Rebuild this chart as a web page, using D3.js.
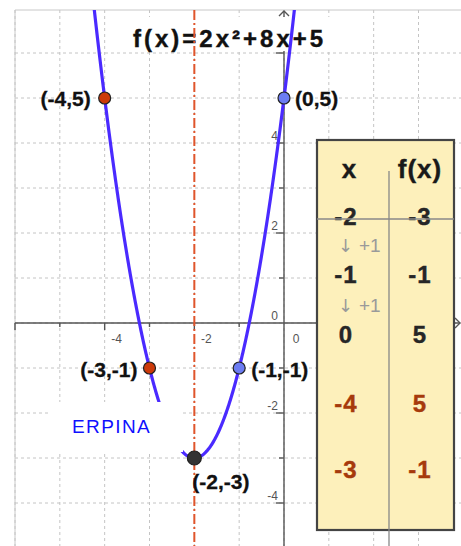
<!DOCTYPE html>
<html>
<head>
<meta charset="utf-8">
<script src="https://cdn.jsdelivr.net/npm/d3@7"></script>
<style>
  html, body { margin: 0; padding: 0; background: #fff; }
  svg { display: block; font-family: "Liberation Sans", Arial, sans-serif; }
</style>
</head>
<body>
<svg id="chart" width="461" height="546"></svg>
<script>
// Quadratic f(x) = a x^2 + b x + c
const coefA = 2, coefB = 8, coefC = 5;
const titleText = "f(x)=2x²+8x+5";

// Marked points on the parabola
const pointX = [-4, 0, -3, -1, -2];
const pointY = [5, 5, -1, -1, -3];
const pointKind = ["red", "blue", "red", "blue", "vertex"];

// Value table
const tableX = ["-2", "-1", "0", "-4", "-3"];
const tableF = ["-3", "-1", "5", "5", "-1"];
const tableKind = ["dark", "dark", "dark", "red", "red"];
const stepArrow = "↓";
const stepLabels = ["+1", "+1"];

// Axis tick labels
const xTickLabels = [-4, -2, 0];
const yTickLabels = [-4, -2, 0, 2, 4];

const axisOfSymmetry = -2;
const noteText = "ERPINA";

const W = 461, H = 546;
const svg = d3.select("#chart");

const x = d3.scaleLinear().domain([-6, 0]).range([15, 284]);
const y = d3.scaleLinear().domain([0, 5]).range([323, 98]);
const f = t => coefA * t * t + coefB * t + coefC;

const plotL = 15, plotT = 10;
const xMin = x.invert(plotL), xMax = x.invert(W);
const yMax = y.invert(plotT), yMin = y.invert(H);

svg.append("defs").append("clipPath").attr("id", "plotClip")
  .append("rect").attr("x", plotL).attr("y", plotT).attr("width", W - plotL).attr("height", H - plotT);

// Grid
const grid = svg.append("g").attr("stroke", "#c4c4c4").attr("stroke-width", 1)
  .attr("stroke-dasharray", "3,3");
d3.range(Math.ceil(xMin), Math.floor(xMax) + 1).forEach(v => {
  grid.append("line").attr("x1", x(v)).attr("x2", x(v)).attr("y1", plotT).attr("y2", H);
});
d3.range(Math.ceil(yMin), Math.floor(yMax) + 1).forEach(v => {
  grid.append("line").attr("x1", plotL).attr("x2", W).attr("y1", y(v)).attr("y2", y(v));
});

// Frame
svg.append("path").attr("d", `M${plotL},${H} V${plotT} H${W}`)
  .attr("fill", "none").attr("stroke", "#c8c8c8").attr("stroke-width", 1);

// Axes
const axes = svg.append("g").attr("stroke", "#555").attr("stroke-width", 1.4).attr("fill", "none");
axes.append("line").attr("x1", plotL).attr("x2", W - 1).attr("y1", y(0)).attr("y2", y(0));
axes.append("line").attr("x1", x(0)).attr("x2", x(0)).attr("y1", H).attr("y2", plotT + 1);
axes.append("path").attr("d", `M${x(0) - 5},${plotT + 6} L${x(0)},${plotT + 1} L${x(0) + 5},${plotT + 6}`);
axes.append("path").attr("d", `M${W - 6},${y(0) - 5} L${W - 1},${y(0)} L${W - 6},${y(0) + 5}`);

d3.range(Math.ceil(xMin), Math.floor(xMax) + 1).filter(v => v !== 0).forEach(v => {
  const len = v % 2 === 0 ? 7 : 4;
  axes.append("line").attr("x1", x(v)).attr("x2", x(v)).attr("y1", y(0)).attr("y2", y(0) + len);
});
d3.range(Math.ceil(yMin), Math.floor(yMax) + 1).filter(v => v !== 0).forEach(v => {
  const len = v % 2 === 0 ? 8 : 5;
  axes.append("line").attr("x1", x(0) - len).attr("x2", x(0)).attr("y1", y(v)).attr("y2", y(v));
});

const tickLab = svg.append("g").attr("fill", "#555").attr("font-size", 12);
xTickLabels.forEach(v => {
  tickLab.append("text").attr("x", x(v) + 12).attr("y", y(0) + 20)
    .attr("text-anchor", "middle").text(v);
});
yTickLabels.forEach(v => {
  tickLab.append("text").attr("x", x(0) - 6).attr("y", y(v) - 3)
    .attr("text-anchor", "end").text(v);
});

// Title with its white backing
svg.append("rect").attr("x", 128).attr("y", 17).attr("width", 202).attr("height", 34).attr("fill", "#fff");
svg.append("text").attr("x", 133).attr("y", 47)
  .attr("font-size", 24).attr("font-weight", "bold").attr("letter-spacing", 3)
  .attr("fill", "#111").attr("stroke", "#111").attr("stroke-width", 0.4)
  .text(titleText);

// Value table
const tb = { x0: 317, y0: 140, x1: 454, y1: 530, mid: 389, rule: 219 };
svg.append("rect").attr("x", tb.x0).attr("y", tb.y0)
  .attr("width", tb.x1 - tb.x0).attr("height", tb.y1 - tb.y0)
  .attr("fill", "#fdf0bb").attr("stroke", "#444").attr("stroke-width", 2.2);
svg.append("line").attr("x1", tb.mid).attr("x2", tb.mid).attr("y1", 171).attr("y2", H)
  .attr("stroke", "#888").attr("stroke-width", 1.3);

const colX = 346, colF = 420;
const hdr = svg.append("g").attr("font-size", 26).attr("font-weight", "bold")
  .attr("fill", "#1a1a1a").attr("stroke", "#1a1a1a").attr("stroke-width", 0.4)
  .attr("text-anchor", "middle");
hdr.append("text").attr("x", colX + 3).attr("y", 178).text("x");
hdr.append("text").attr("x", colF).attr("y", 178).attr("letter-spacing", 1).text("f(x)");

const rowBase = [225, 283, 343, 412, 478];
const rows = svg.append("g").attr("font-size", 24).attr("font-weight", "bold")
  .attr("text-anchor", "middle").attr("letter-spacing", 1).attr("stroke-width", 0.4);
tableX.forEach((v, i) => {
  const col = tableKind[i] === "red" ? "#a63a0c" : "#262626";
  rows.append("text").attr("x", colX).attr("y", rowBase[i]).attr("fill", col).attr("stroke", col).text(v);
  rows.append("text").attr("x", colF).attr("y", rowBase[i]).attr("fill", col).attr("stroke", col).text(tableF[i]);
});
svg.append("line").attr("x1", tb.x0).attr("x2", tb.x1).attr("y1", tb.rule).attr("y2", tb.rule)
  .attr("stroke", "#888").attr("stroke-width", 1.3);

const stepBase = [252, 312];
stepLabels.forEach((s, i) => {
  const t = svg.append("text").attr("y", stepBase[i]).attr("fill", "#9a9a9a");
  t.append("tspan").attr("x", 338).attr("font-family", "DejaVu Sans").attr("font-size", 18).text(stepArrow);
  t.append("tspan").attr("x", 359).attr("font-size", 19).text(s);
});

// Axis of symmetry and parabola, clipped to the plot frame
const plot = svg.append("g").attr("clip-path", "url(#plotClip)");
plot.append("line").attr("x1", x(axisOfSymmetry)).attr("x2", x(axisOfSymmetry))
  .attr("y1", plotT).attr("y2", H)
  .attr("stroke", "#e0552c").attr("stroke-width", 2).attr("stroke-dasharray", "10,3,2,3");

const samples = d3.range(xMin, xMax, 0.01).map(t => [t, f(t)])
  .filter(d => d[1] <= yMax + 0.5);
plot.append("path").datum(samples)
  .attr("d", d3.line().x(d => x(d[0])).y(d => y(d[1])))
  .attr("fill", "none").attr("stroke", "#4a2aff").attr("stroke-width", 3.2);

// Note box on top of the curve
svg.append("rect").attr("x", 50).attr("y", 402).attr("width", 133).attr("height", 50).attr("fill", "#fff");
svg.append("text").attr("x", 72).attr("y", 433).attr("font-size", 19)
  .attr("letter-spacing", 1.4).attr("fill", "#1010ff").text(noteText);

// Points and their coordinate labels
const fillOf = { red: "#cc3a0a", blue: "#6c7cf2", vertex: "#333" };
const labelPos = [
  { dx: -14, dy: 8, anchor: "end" },
  { dx: 11, dy: 8, anchor: "start" },
  { dx: -12, dy: 9, anchor: "end" },
  { dx: 12, dy: 9, anchor: "start" },
  { dx: -2, dy: 31, anchor: "start" }
];
pointX.forEach((px, i) => {
  svg.append("circle").attr("cx", x(px)).attr("cy", y(pointY[i]))
    .attr("r", pointKind[i] === "vertex" ? 7 : 6)
    .attr("fill", fillOf[pointKind[i]]).attr("stroke", "#222").attr("stroke-width", 1.2);
  const p = labelPos[i];
  svg.append("text").attr("x", x(px) + p.dx).attr("y", y(pointY[i]) + p.dy)
    .attr("text-anchor", p.anchor).attr("font-size", 21).attr("font-weight", "bold")
    .attr("fill", "#111").attr("stroke", "#111").attr("stroke-width", 0.3)
    .text(`(${px},${pointY[i]})`);
});
</script>
</body>
</html>
